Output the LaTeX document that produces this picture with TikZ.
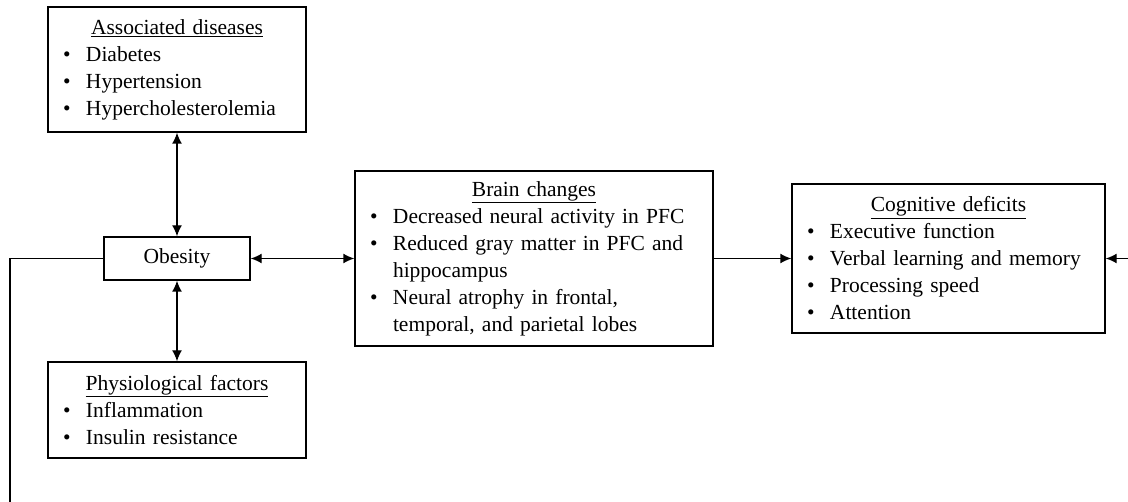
\documentclass[tikz,border=0pt]{standalone}
\usepackage{fontspec}
\setmainfont{Liberation Serif}
\usetikzlibrary{arrows.meta}
\newcommand{\itm}[1]{\par\noindent\makebox[23pt][l]{\textbullet}#1}
\newcommand{\cnt}[1]{\par\noindent\hspace*{23pt}#1}
\newcommand{\ttl}[1]{\noindent\makebox[\linewidth][c]{\underline{#1}}}
\newcommand{\boxfont}{\fontsize{21.5}{27}\selectfont\spaceskip=0.36em plus 0.1em minus 0.05em\relax}
\tikzset{
  box/.style={draw, line width=1.4pt, inner xsep=15pt, inner ysep=0pt, align=left,
    font=\boxfont},
  conn/.style={line width=1.4pt},
  tip/.style={-{Latex[length=11pt,width=10pt]}},
  tips/.style={{Latex[length=11pt,width=10pt]}-{Latex[length=11pt,width=10pt]}}
}
\begin{document}
\begin{tikzpicture}[x=1pt,y=-1pt]
\useasboundingbox (0,0) rectangle (1128,502);
\node[box, text width=228pt, minimum width=258pt, minimum height=125pt] (assoc) at (177,69.5)
  {\ttl{Associated diseases}\itm{Diabetes}\itm{Hypertension}\itm{Hypercholesterolemia}};
\node[draw, line width=1.4pt, minimum width=146pt, minimum height=43pt, inner sep=0pt,
  font=\boxfont] (obes) at (177,258.5) {Obesity};
\node[box, text width=228pt, minimum width=258pt, minimum height=96pt] (phys) at (177,410)
  {\ttl{Physiological factors}\itm{Inflammation}\itm{Insulin resistance}};
\node[box, text width=328pt, minimum width=358pt, minimum height=175pt] (brain) at (534,258.5)
  {\ttl{Brain changes}\itm{Decreased neural activity in PFC}\itm{Reduced gray matter in PFC and}\cnt{hippocampus}\itm{Neural atrophy in frontal,}\cnt{temporal, and parietal lobes}};
\node[box, text width=283pt, minimum width=313pt, minimum height=149pt] (cog) at (948.5,258.5)
  {\ttl{Cognitive deficits}\itm{Executive function}\itm{Verbal learning and memory}\itm{Processing speed}\itm{Attention}};
\coordinate (rin) at (1128,258.5);
\coordinate (lc) at (10,258.5);
\coordinate (lend) at (10,502);
\draw[conn,tips] (assoc.south) -- (obes.north);
\draw[conn,tips] (obes.south) -- (phys.north);
\draw[conn,tips] (obes.east) -- (brain.west);
\draw[conn,tip] (brain.east) -- (cog.west);
\draw[conn,tip] (rin) -- (cog.east);
\draw[conn] (obes.west) -- (lc) -- (lend);
\end{tikzpicture}
\end{document}
